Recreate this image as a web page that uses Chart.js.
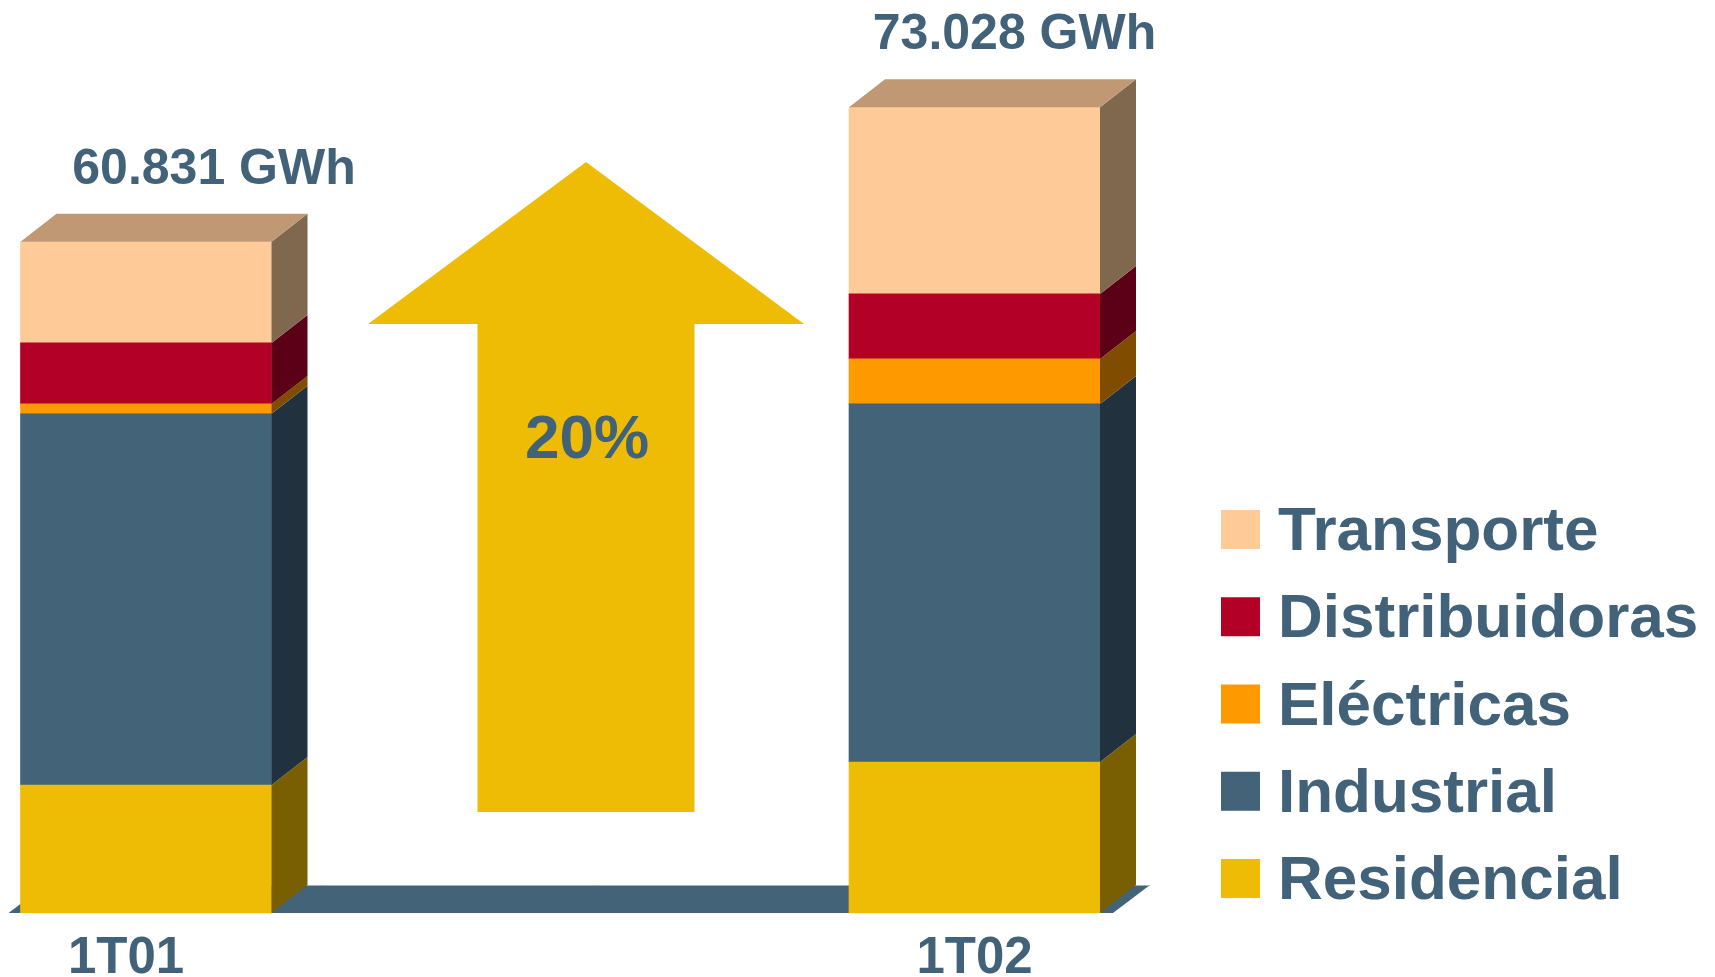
<!DOCTYPE html>
<html lang="es">
<head>
<meta charset="utf-8">
<title>Demanda por sectores 1T01 - 1T02</title>
<script src="https://cdn.jsdelivr.net/npm/chart.js@4/dist/chart.umd.min.js"></script>
<style>
  html, body { margin: 0; padding: 0; background: #fff; }
  #wrap { width: 1715px; height: 977px; }
</style>
</head>
<body>
<div id="wrap"><canvas id="grafico" width="1715" height="977"></canvas></div>
<script>
// ==============================
// Datos (GWh)
// ==============================
const periodos = ['1T01', '1T02'];
const residencial = [11600, 13690];
const industrial = [33640, 32450];
const electricas = [900, 4080];
const distribuidoras = [5530, 5890];
const transporte = [9161, 16918];

// colores: cara frontal y cara lateral (sombra)
const colFrente = { residencial: '#EEBC04', industrial: '#426378', electricas: '#FE9900', distribuidoras: '#B30027', transporte: '#FECB98' };
const colLado = { residencial: '#7A5F02', industrial: '#21323E', electricas: '#804D00', distribuidoras: '#5C0018', transporte: '#80684E' };
const colTecho = '#C09873';
const azul = '#426279';

const fmtMiles = (n) => String(Math.round(n)).replace(/\B(?=(\d{3})+(?!\d))/g, '.');

const series = [
  { key: 'residencial', label: 'Residencial', data: residencial },
  { key: 'industrial', label: 'Industrial', data: industrial },
  { key: 'electricas', label: 'Eléctricas', data: electricas },
  { key: 'distribuidoras', label: 'Distribuidoras', data: distribuidoras },
  { key: 'transporte', label: 'Transporte', data: transporte }
];

const totales = periodos.map((_, i) => series.reduce((s, d) => s + d.data[i], 0));

// ==============================
// Plugin: efecto 3D, flecha, textos y leyenda
// ==============================
const DX = 36, DY = 28;

const deco3D = {
  id: 'deco3D',
  beforeDatasetsDraw(chart) {
    const ctx = chart.ctx;
    const m0 = chart.getDatasetMeta(0).data;
    const left = m0[0].x - m0[0].width / 2 - 12;
    const right = m0[m0.length - 1].x + m0[m0.length - 1].width / 2 + 13;
    const base = m0[0].base;
    ctx.save();
    ctx.fillStyle = '#426378';
    ctx.beginPath();
    ctx.moveTo(left, base);
    ctx.lineTo(left + DX + 1, base - DY);
    ctx.lineTo(right + DX + 1, base - DY);
    ctx.lineTo(right, base);
    ctx.closePath();
    ctx.fill();
    ctx.strokeStyle = '#9fb0bd';
    ctx.lineWidth = 1;
    ctx.beginPath();
    ctx.moveTo(left + DX + 1, base - DY + 0.5);
    ctx.lineTo(right + DX + 1, base - DY + 0.5);
    ctx.stroke();

    // flecha de crecimiento
    const a = chart.options.plugins.deco3D.flecha;
    ctx.fillStyle = '#EEBC04';
    ctx.beginPath();
    ctx.moveTo(a.cx, a.punta);
    ctx.lineTo(a.cx + a.cabeza, a.baseCabeza);
    ctx.lineTo(a.cx + a.tallo, a.baseCabeza);
    ctx.lineTo(a.cx + a.tallo, a.fondo);
    ctx.lineTo(a.cx - a.tallo, a.fondo);
    ctx.lineTo(a.cx - a.tallo, a.baseCabeza);
    ctx.lineTo(a.cx - a.cabeza, a.baseCabeza);
    ctx.closePath();
    ctx.fill();
    const crec = Math.round((totales[1] / totales[0] - 1) * 100);
    ctx.fillStyle = azul;
    ctx.font = 'bold 62px "Liberation Sans", Arial, sans-serif';
    ctx.textAlign = 'center';
    ctx.textBaseline = 'alphabetic';
    ctx.fillText(`${crec}%`, a.cx + 1, a.textoY);
    ctx.restore();
  },
  afterDatasetsDraw(chart) {
    const ctx = chart.ctx;
    const n = chart.data.datasets.length;
    ctx.save();
    for (let d = 0; d < n; d++) {
      const meta = chart.getDatasetMeta(d);
      const key = chart.data.datasets[d].key;
      meta.data.forEach((bar) => {
        const r = bar.x + bar.width / 2;
        const top = Math.min(bar.y, bar.base), bot = Math.max(bar.y, bar.base);
        ctx.fillStyle = colLado[key];
        ctx.beginPath();
        ctx.moveTo(r, bot);
        ctx.lineTo(r, top);
        ctx.lineTo(r + DX, top - DY);
        ctx.lineTo(r + DX, bot - DY);
        ctx.closePath();
        ctx.fill();
        if (d === n - 1) {
          const l = bar.x - bar.width / 2;
          ctx.fillStyle = colTecho;
          ctx.beginPath();
          ctx.moveTo(l, top);
          ctx.lineTo(l + DX, top - DY);
          ctx.lineTo(r + DX, top - DY);
          ctx.lineTo(r, top);
          ctx.closePath();
          ctx.fill();
        }
      });
    }

    const opts = chart.options.plugins.deco3D;
    const xs = chart.scales.x;
    const metaTop = chart.getDatasetMeta(n - 1).data;
    ctx.fillStyle = azul;
    ctx.textAlign = 'center';
    ctx.textBaseline = 'alphabetic';

    // totales encima de cada barra
    ctx.font = 'bold 50px "Liberation Sans", Arial, sans-serif';
    metaTop.forEach((bar, i) => {
      ctx.fillText(`${fmtMiles(totales[i])} GWh`, bar.x + opts.totalDx[i], bar.y - 58);
    });

    // etiquetas de periodo
    ctx.font = 'bold 51px "Liberation Sans", Arial, sans-serif';
    periodos.forEach((p, i) => {
      ctx.fillText(p, xs.getPixelForValue(i) + opts.etiquetaDx[i], opts.etiquetaY);
    });

    // leyenda (orden inverso a la pila)
    const lg = opts.leyenda;
    ctx.textAlign = 'left';
    ctx.font = 'bold 62px "Liberation Sans", Arial, sans-serif';
    for (let k = 0; k < n; k++) {
      const ds = chart.data.datasets[n - 1 - k];
      const y = lg.y + k * lg.paso;
      ctx.fillStyle = ds.backgroundColor;
      ctx.fillRect(lg.x, y, 39, 39);
      ctx.fillStyle = azul;
      ctx.fillText(ds.label, lg.x + 57, y + 40);
    }
    ctx.restore();
  }
};

// ==============================
// Gráfico
// ==============================
const ctx = document.getElementById('grafico').getContext('2d');
new Chart(ctx, {
  type: 'bar',
  data: {
    labels: periodos,
    datasets: series.map(s => ({
      key: s.key,
      label: s.label,
      data: s.data,
      backgroundColor: colFrente[s.key],
      borderWidth: 0,
      barThickness: 251,
      clip: false
    }))
  },
  options: {
    responsive: false,
    animation: false,
    devicePixelRatio: 1,
    layout: { padding: { left: 146, right: 740.5, top: 0, bottom: 64 } },
    scales: {
      x: { stacked: true, offset: false, display: false, grid: { display: false } },
      y: { stacked: true, min: 0, max: 82750, display: false, grid: { display: false } }
    },
    plugins: {
      legend: { display: false },
      tooltip: { enabled: false },
      deco3D: {
        totalDx: [68, 40],
        etiquetaDx: [-20, 0],
        etiquetaY: 973,
        flecha: { cx: 586, punta: 162, baseCabeza: 324, cabeza: 218, tallo: 108.5, fondo: 812, textoY: 458 },
        leyenda: { x: 1221, y: 510, paso: 87.25 }
      }
    }
  },
  plugins: [deco3D]
});
</script>
</body>
</html>
